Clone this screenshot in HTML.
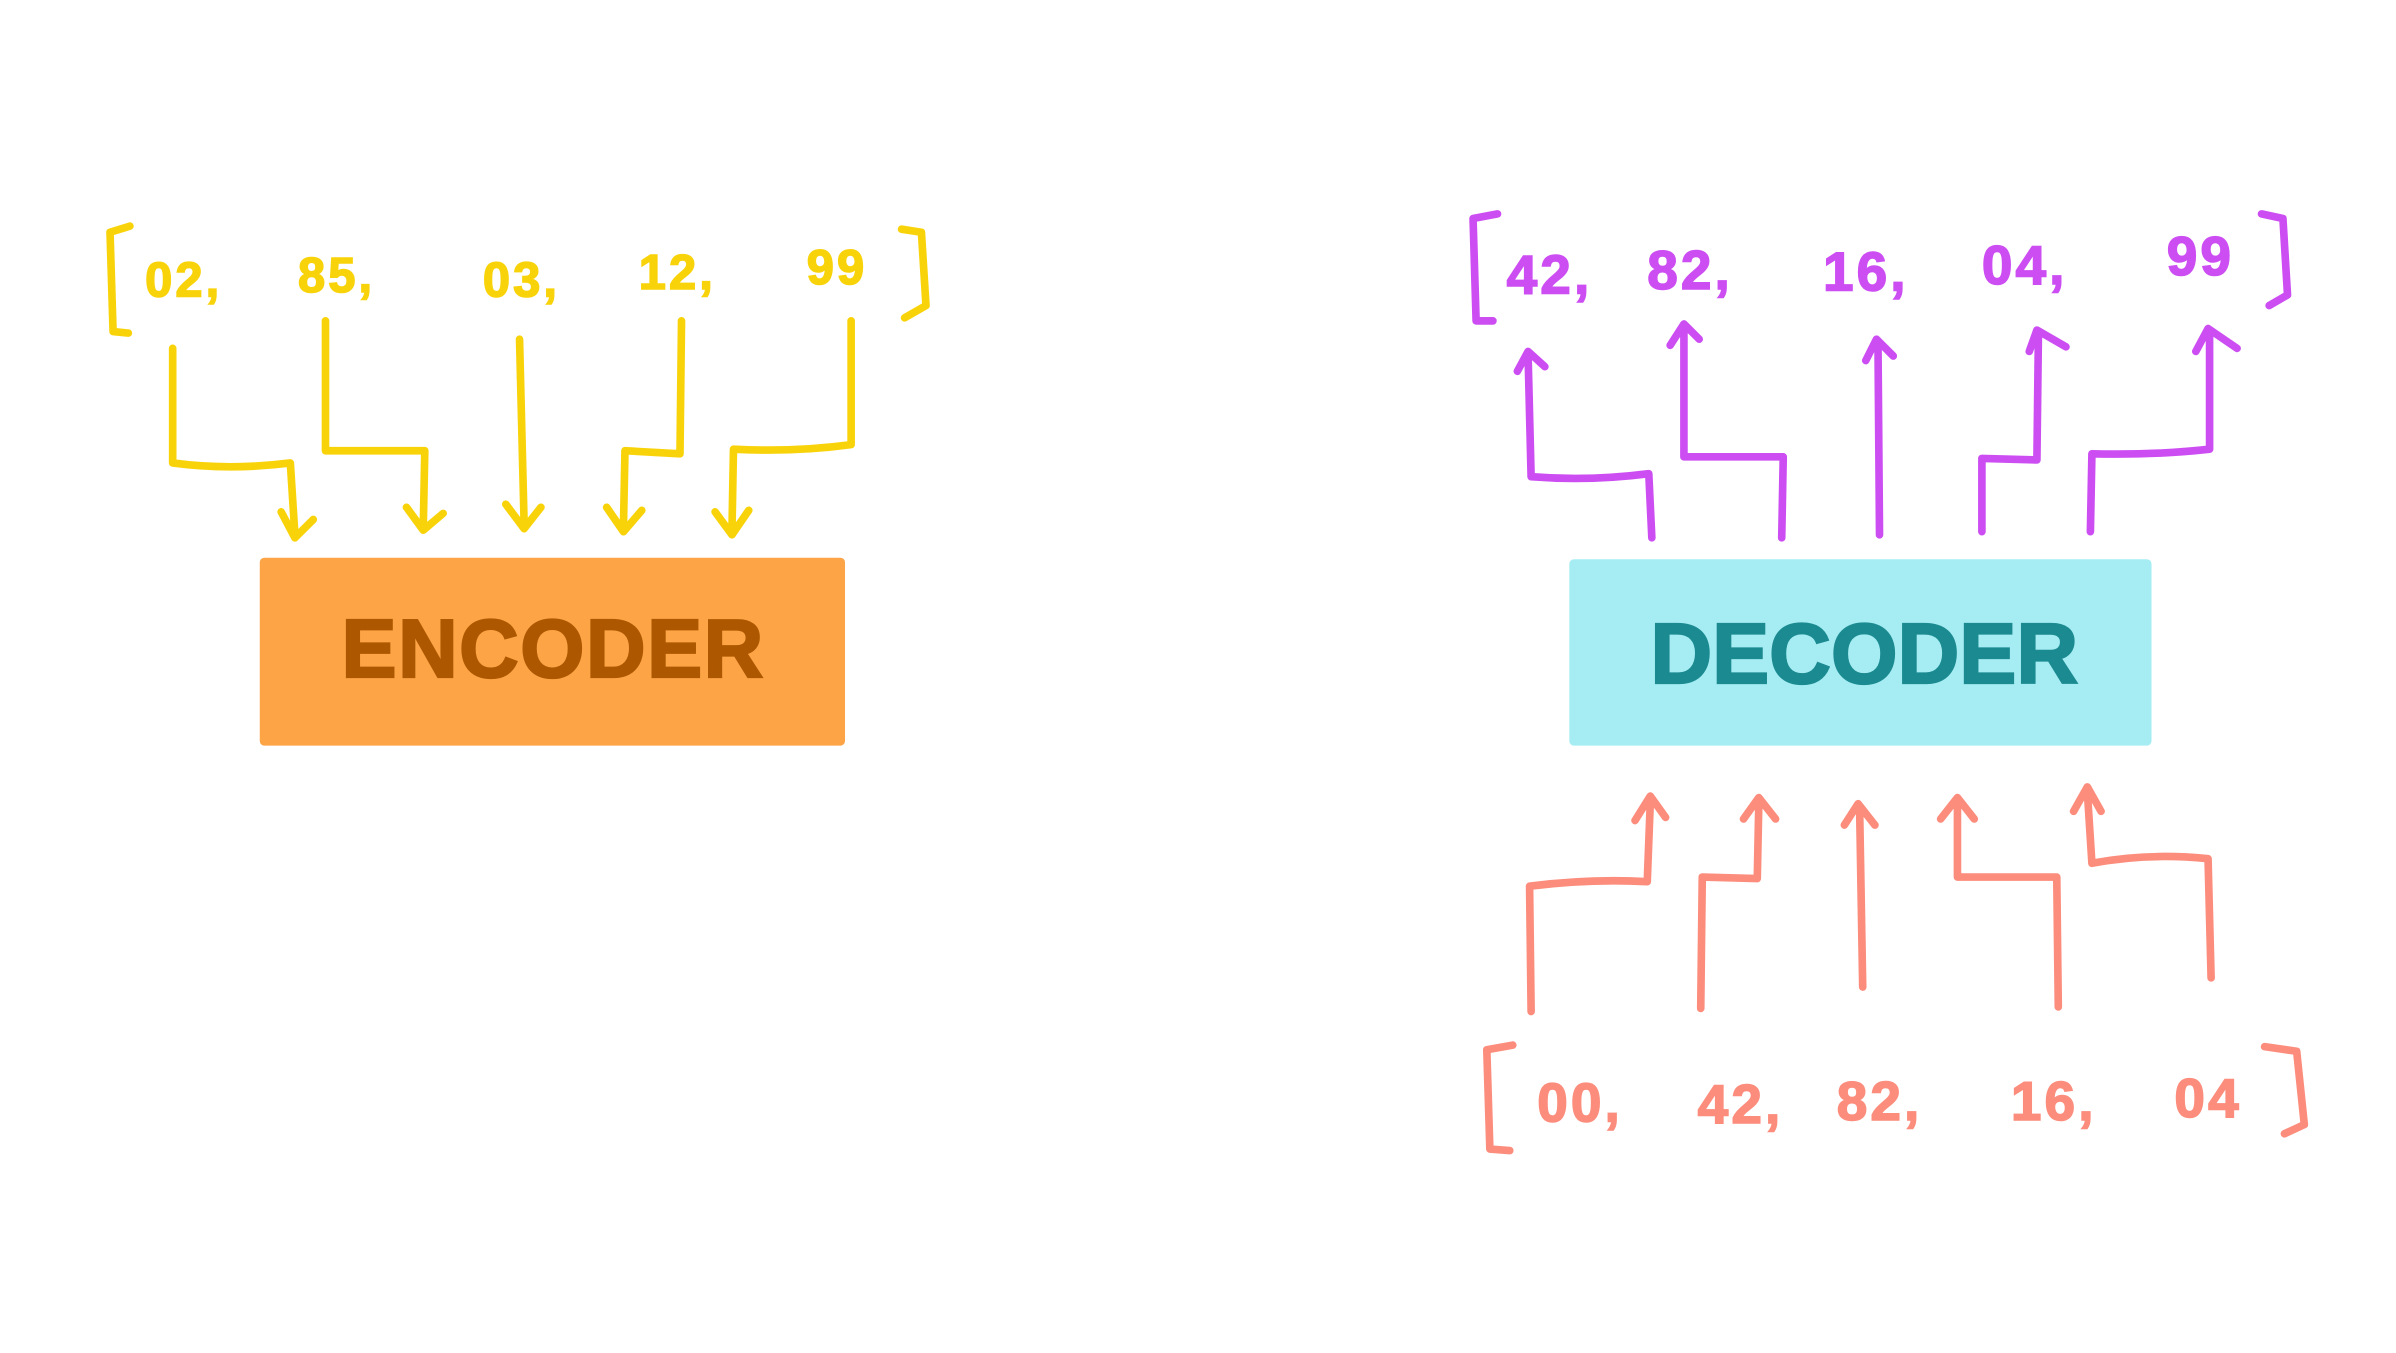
<!DOCTYPE html>
<html><head><meta charset="utf-8"><style>
html,body{margin:0;padding:0;background:#fff;}
svg{display:block;}
text{font-family:"Liberation Sans",sans-serif;}
</style></head><body>
<svg width="2396" height="1353" viewBox="0 0 1568 885.5" preserveAspectRatio="none" xmlns="http://www.w3.org/2000/svg">
<rect width="1568" height="885.5" fill="#fff"/>
<g fill="none" stroke="#F9D30A" stroke-width="5" stroke-linecap="round" stroke-linejoin="round">
  <path d="M85,148 L72,152 L74,217 L84,218"/>
  <path d="M590,150 L603,152 L606,200 L592,208"/>
  <path d="M113,228 L113,303 Q150,308 190,303 L193,350 M184,335 L193,352 L205,340"/>
  <path d="M213,210 L213,295 L278,295 L277,345 M266,332 L277,347 L290,336"/>
  <path d="M340,222 L343,343 M331,330 L343,346 L354,332"/>
  <path d="M446,210 L445,297 L409,295 L408,345 M397,332 L408,348 L420,334"/>
  <path d="M557,210 L557,291 Q520,296 480,294 L479,348 M468,335 L479,350 L490,334"/>
</g>
<g fill="#F9D30A" stroke="#F9D30A" stroke-width="1" font-size="32" font-weight="bold" letter-spacing="2">
  <text x="95" y="194">02,</text>
  <text x="195" y="191">85,</text>
  <text x="316" y="194">03,</text>
  <text x="418" y="189">12,</text>
  <text x="528" y="186">99</text>
</g>
<rect x="170" y="365" width="383" height="123" rx="3" fill="#FDA446"/>
<text x="362" y="443" text-anchor="middle" font-size="54" font-weight="bold" fill="#AD5800" stroke="#AD5800" stroke-width="1.5" letter-spacing="1">ENCODER</text>

<rect x="1027" y="366" width="381" height="122" rx="3" fill="#A5EDF3"/>
<text x="1220" y="447" text-anchor="middle" font-size="56" font-weight="bold" fill="#1B8A91" stroke="#1B8A91" stroke-width="1.5" letter-spacing="0">DECODER</text>

<g fill="none" stroke="#CC4EF2" stroke-width="5" stroke-linecap="round" stroke-linejoin="round">
  <path d="M980,140 L964,143 L966,210 L977,210"/>
  <path d="M1480,140 L1494,143 L1497,193 L1485,200"/>
  <path d="M1081,352 L1079,310 Q1040,315 1002,312 L1000,232 M993,243 L1000,230 L1011,240"/>
  <path d="M1166,352 L1167,299 L1102,299 L1102,215 M1093,226 L1102,212 L1112,222"/>
  <path d="M1230,350 L1229,225 M1221,236 L1228,222 L1239,233"/>
  <path d="M1297,348 L1297,300 L1333,301 L1334,218 M1328,230 L1333,216 L1352,227"/>
  <path d="M1368,348 L1369,297 Q1410,298 1446,294 L1446,218 M1437,230 L1445,215 L1464,228"/>
</g>
<g fill="#CC4EF2" stroke="#CC4EF2" stroke-width="1" font-size="36" font-weight="bold" letter-spacing="2">
  <text x="986" y="192">42,</text>
  <text x="1078" y="189">82,</text>
  <text x="1193" y="190">16,</text>
  <text x="1297" y="186">04,</text>
  <text x="1418" y="180">99</text>
</g>

<g fill="none" stroke="#FC8C7C" stroke-width="5" stroke-linecap="round" stroke-linejoin="round">
  <path d="M990,684 L973,687 L975,752 L988,753"/>
  <path d="M1482,685 L1503,688 L1508,736 L1495,742"/>
  <path d="M1002,662 L1001,580 Q1040,575 1078,577 L1080,525 M1070,537 L1080,521 L1090,535"/>
  <path d="M1113,660 L1114,574 L1150,575 L1151,526 M1141,536 L1151,522 L1162,536"/>
  <path d="M1219,646 L1217,530 M1207,540 L1216,526 L1227,540"/>
  <path d="M1347,659 L1346,574 L1281,574 L1281,525 M1270,536 L1281,522 L1292,536"/>
  <path d="M1447,640 L1445,562 Q1405,558 1369,565 L1366,518 M1357,531 L1366,515 L1375,531"/>
</g>
<g fill="#FC8C7C" stroke="#FC8C7C" stroke-width="1" font-size="36" font-weight="bold" letter-spacing="2">
  <text x="1006" y="734">00,</text>
  <text x="1111" y="735">42,</text>
  <text x="1202" y="733">82,</text>
  <text x="1316" y="733">16,</text>
  <text x="1423" y="731">04</text>
</g>
</svg>
</body></html>
